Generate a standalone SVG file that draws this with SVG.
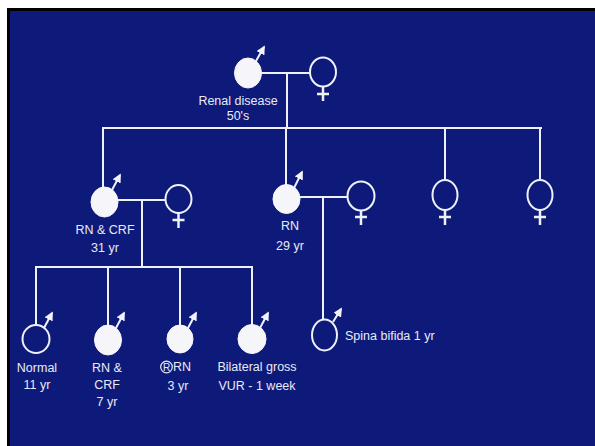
<svg xmlns="http://www.w3.org/2000/svg" width="595" height="446" viewBox="0 0 595 446">
<defs>
<marker id="ah" viewBox="0 0 10 10" refX="8" refY="5" markerWidth="4.5" markerHeight="4.5" orient="auto" markerUnits="strokeWidth">
<path d="M0,0 L10,5 L0,10 Z" fill="#f2f2fa"/>
</marker>
<style>
.ln{stroke:#eef0fa;stroke-width:2;fill:none;stroke-linecap:square}
.mf{fill:#f6f6fa;stroke:#f6f6fa;stroke-width:1}
.mo{fill:none;stroke:#eef0fa;stroke-width:2}
.fo{fill:none;stroke:#eef0fa;stroke-width:2}
.ar{stroke:#f2f2fa;stroke-width:2;fill:none;marker-end:url(#ah)}
.cr{stroke:#eef0fa;stroke-width:2.5;fill:none}
text{font-family:"Liberation Sans",Arial,sans-serif;font-size:12.5px;fill:#e8eaf6;text-anchor:middle}
</style>
</defs>
<rect x="0" y="0" width="595" height="446" fill="#ffffff"/>
<rect x="7" y="8" width="588" height="438" fill="#000000"/>
<rect x="10" y="11" width="585" height="435" fill="#0e1a7a"/>

<g id="connectors">
<path class="ln" d="M262,73 H310"/>
<path class="ln" d="M287,73 V128"/>
<path class="ln" d="M103,128 H541"/>
<path class="ln" d="M103,128 V187"/>
<path class="ln" d="M286,128 V185"/>
<path class="ln" d="M445,128 V180"/>
<path class="ln" d="M540,128 V180"/>
<path class="ln" d="M118,200 H165"/>
<path class="ln" d="M142,200 V267"/>
<path class="ln" d="M36,267 H252"/>
<path class="ln" d="M36,267 V325"/>
<path class="ln" d="M108,267 V325"/>
<path class="ln" d="M180,267 V325"/>
<path class="ln" d="M252,267 V325"/>
<path class="ln" d="M300,197 H347"/>
<path class="ln" d="M323,197 V319"/>
</g>

<g id="gen1-male">
<ellipse class="mf" cx="248" cy="73" rx="13.5" ry="15"/>
<path class="ar" d="M256,61 L264,47"/>
<text x="238" y="105">Renal disease</text>
<text x="238" y="120">50's</text>
</g>
<g id="gen1-female">
<ellipse class="fo" cx="323" cy="72" rx="13" ry="14.5"/>
<path class="cr" d="M323,87 V101 M317,94 H329"/>
</g>

<g id="gen2-son1">
<ellipse class="mf" cx="104.5" cy="202" rx="13.5" ry="15"/>
<path class="ar" d="M112,190 L120,175"/>
<text x="105" y="234">RN &amp; CRF</text>
<text x="105" y="252">31 yr</text>
</g>
<g id="gen2-wife1">
<ellipse class="fo" cx="178.5" cy="199" rx="13" ry="14"/>
<path class="cr" d="M178.5,213 V228 M172.5,220 H184.5"/>
</g>

<g id="gen2-son2">
<ellipse class="mf" cx="286.5" cy="199" rx="13.5" ry="14.5"/>
<path class="ar" d="M294,188 L302,172"/>
<text x="290" y="230">RN</text>
<text x="290" y="250">29 yr</text>
</g>
<g id="gen2-wife2">
<ellipse class="fo" cx="361" cy="196" rx="13.5" ry="14.5"/>
<path class="cr" d="M361,210.5 V225 M355,217 H367"/>
</g>

<g id="gen2-daughter1">
<ellipse class="fo" cx="445" cy="195" rx="12.5" ry="15"/>
<path class="cr" d="M445,210 V225 M439,217 H451"/>
</g>
<g id="gen2-daughter2">
<ellipse class="fo" cx="540" cy="195" rx="12.5" ry="15"/>
<path class="cr" d="M540,210 V225 M534,217 H546"/>
</g>

<g id="gen3-normal">
<ellipse class="mo" cx="36" cy="339" rx="13.5" ry="14"/>
<path class="ar" d="M44,328 L52,313"/>
<text x="37" y="372">Normal</text>
<text x="37" y="389">11 yr</text>
</g>
<g id="gen3-rncrf">
<ellipse class="mf" cx="108" cy="340" rx="13.5" ry="15"/>
<path class="ar" d="M116,328 L124,313"/>
<text x="107" y="372">RN &amp;</text>
<text x="107" y="389">CRF</text>
<text x="107" y="406">7 yr</text>
</g>
<g id="gen3-rrn">
<ellipse class="mf" cx="180" cy="339" rx="13" ry="14"/>
<path class="ar" d="M188,328 L196,313"/>
<circle cx="166.5" cy="367" r="5.8" fill="none" stroke="#e8eaf6" stroke-width="1.2"/>
<text x="166.5" y="371" style="font-size:10px">R</text>
<text x="173" y="371" style="text-anchor:start">RN</text>
<text x="178" y="390">3 yr</text>
</g>
<g id="gen3-vur">
<ellipse class="mf" cx="252" cy="339" rx="14" ry="14.5"/>
<path class="ar" d="M260,328 L268,313"/>
<text x="257" y="371">Bilateral gross</text>
<text x="257" y="390">VUR - 1 week</text>
</g>

<g id="gen3-spina">
<ellipse class="mo" cx="324.5" cy="335" rx="12.5" ry="15.5"/>
<path class="ar" d="M333,322 L341,309"/>
<text x="345" y="340" style="text-anchor:start">Spina bifida 1 yr</text>
</g>
</svg>
